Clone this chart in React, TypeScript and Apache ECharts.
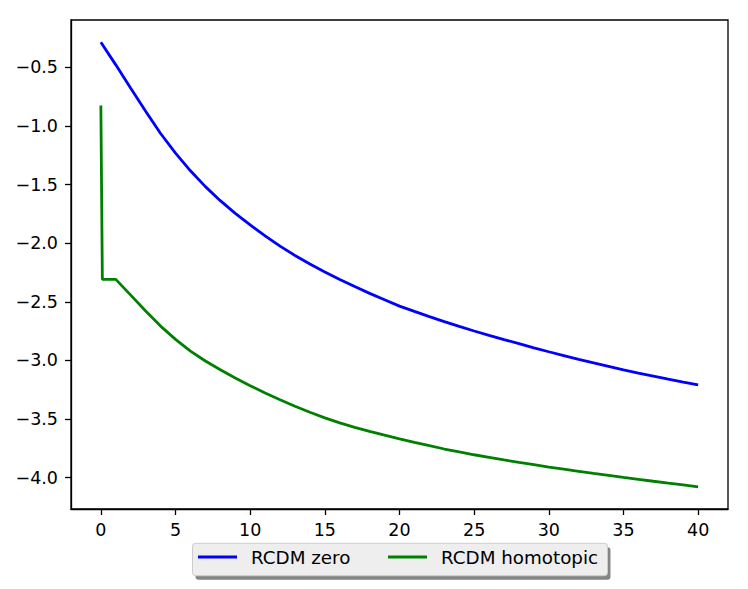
import React, { useEffect, useRef } from "react";
import * as echarts from "echarts";

const xBlue = [0, 1, 2, 3, 4, 5, 6, 7, 8, 9, 10, 11, 12, 13, 14, 15, 16, 17, 18, 19, 20, 21, 22, 23, 24, 25, 26, 27, 28, 29, 30, 31, 32, 33, 34, 35, 36, 37, 38, 39, 40];
const rcdmZero = [
  -0.287, -0.48, -0.68, -0.875, -1.065, -1.232, -1.383, -1.518, -1.638, -1.746,
  -1.845, -1.938, -2.025, -2.105, -2.178, -2.245, -2.31, -2.37, -2.428, -2.482,
  -2.537, -2.582, -2.626, -2.669, -2.71, -2.749, -2.786, -2.822, -2.857, -2.892,
  -2.926, -2.958, -2.99, -3.021, -3.051, -3.081, -3.108, -3.134, -3.16, -3.185,
  -3.209,
];
const xGreen = [0, 0.1, 1, 2, 3, 4, 5, 6, 7, 8, 9, 10, 11, 12, 13, 14, 15, 16, 17, 18, 19, 20, 21, 22, 23, 24, 25, 26, 27, 28, 29, 30, 31, 32, 33, 34, 35, 36, 37, 38, 39, 40];
const rcdmHomotopic = [
  -0.826, -2.309, -2.309, -2.443, -2.579, -2.707, -2.82, -2.92, -3.005, -3.08, -3.15,
  -3.215, -3.277, -3.335, -3.39, -3.442, -3.49, -3.532, -3.57, -3.605, -3.637,
  -3.668, -3.698, -3.727, -3.755, -3.78, -3.804, -3.826, -3.848, -3.869, -3.889,
  -3.909, -3.927, -3.945, -3.963, -3.98, -3.997, -4.013, -4.03, -4.046, -4.061,
  -4.077,
];
const xTicks = [0, 5, 10, 15, 20, 25, 30, 35, 40];
const yTicks = [-4.0, -3.5, -3.0, -2.5, -2.0, -1.5, -1.0, -0.5];
const seriesNames = ["RCDM zero", "RCDM homotopic"];
const seriesColors = ["#0000ff", "#008000"];

const FONT = "DejaVu Sans";
const FS = 17.5;
const LEGEND_FS = 18.3;

export default function App() {
  const ref = useRef<HTMLDivElement>(null);
  useEffect(() => {
    document.body.style.margin = "0";
    if (!ref.current) return;
    const chart = echarts.init(ref.current, null, { renderer: "svg" });
    const axisLine = { show: true, onZero: false, lineStyle: { color: "#000", width: 1.3 } };
    const tickBase = { show: true, inside: false, length: 6, lineStyle: { color: "#000", width: 1.3 } };
    const legendBase = {
      top: 548,
      padding: 0,
      itemWidth: 39,
      itemHeight: 2.8,
      icon: "rect",
      selectedMode: false,
      itemStyle: { borderWidth: 0 },
      textStyle: { fontSize: LEGEND_FS, fontFamily: FONT, color: "#000", padding: [0, 0, 0, 9] },
      z: 10,
    };
    chart.setOption({
      animation: false,
      backgroundColor: "#fff",
      textStyle: { fontFamily: FONT },
      grid: {
        left: 71,
        top: 20,
        width: 657,
        height: 489,
        show: true,
        borderColor: "#000",
        borderWidth: 1.3,
        backgroundColor: "transparent",
      },
      xAxis: {
        type: "value",
        min: -2,
        max: 42,
        splitLine: { show: false },
        axisLine,
        axisTick: { ...tickBase, customValues: xTicks },
        axisLabel: {
          customValues: xTicks,
          margin: 12,
          color: "#000",
          fontSize: FS,
          fontFamily: FONT,
          formatter: (v: number) => String(v),
        },
      },
      yAxis: {
        type: "value",
        min: -4.2665,
        max: -0.0975,
        splitLine: { show: false },
        axisLine,
        axisTick: { ...tickBase, customValues: yTicks },
        axisLabel: {
          customValues: yTicks,
          margin: 13,
          color: "#000",
          fontSize: FS,
          fontFamily: FONT,
          formatter: (v: number) => v.toFixed(1).replace("-", "\u2212"),
        },
      },
      legend: [
        { ...legendBase, data: [seriesNames[0]], left: 198 },
        { ...legendBase, data: [seriesNames[1]], left: 388 },
      ],
      graphic: [
        {
          type: "rect",
          z: 1,
          shape: { x: 195.5, y: 547.3, width: 415, height: 32.4, r: 3 },
          style: { fill: "#858585" },
        },
        {
          type: "rect",
          z: 2,
          shape: { x: 192.5, y: 543.3, width: 415, height: 32.4, r: 3 },
          style: { fill: "#eeeeee", stroke: "#cccccc", lineWidth: 1 },
        },
      ],
      series: [
        {
          name: seriesNames[0],
          type: "line",
          symbol: "none",
          lineStyle: { color: seriesColors[0], width: 2.8 },
          itemStyle: { color: seriesColors[0] },
          data: xBlue.map((x, i) => [x, rcdmZero[i]]),
        },
        {
          name: seriesNames[1],
          type: "line",
          symbol: "none",
          lineStyle: { color: seriesColors[1], width: 2.8 },
          itemStyle: { color: seriesColors[1] },
          data: xGreen.map((x, i) => [x, rcdmHomotopic[i]]),
        },
      ],
    });
    return () => chart.dispose();
  }, []);
  return (
    <div
      ref={ref}
      style={{ position: "absolute", left: 0, top: 0, width: 748, height: 589 }}
    />
  );
}
